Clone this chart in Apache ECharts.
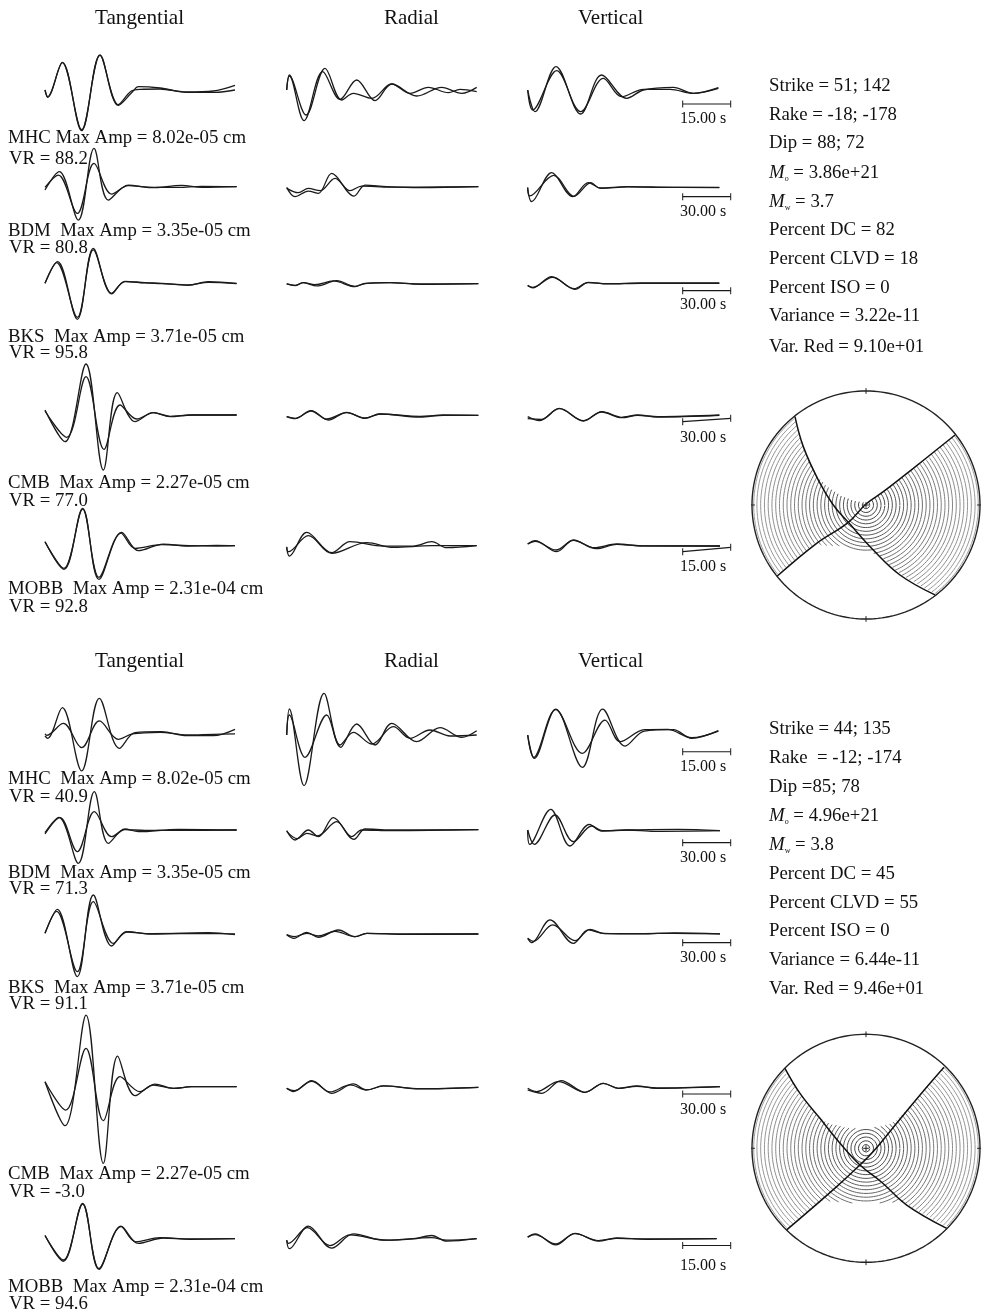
<!DOCTYPE html>
<html><head><meta charset="utf-8">
<style>html,body{margin:0;padding:0;background:#fff}#c{width:986px;height:1314px;filter:blur(0.45px)}</style>
<script src="https://cdn.jsdelivr.net/npm/echarts@6/dist/echarts.min.js"></script>
</head><body><div id="c"></div>
<script>
// ---------- text ----------
const headers = ['Tangential','Radial','Vertical'];
const stationTop = ['MHC Max Amp = 8.02e-05 cm','BDM  Max Amp = 3.35e-05 cm','BKS  Max Amp = 3.71e-05 cm','CMB  Max Amp = 2.27e-05 cm','MOBB  Max Amp = 2.31e-04 cm'];
const stationBot = ['MHC  Max Amp = 8.02e-05 cm','BDM  Max Amp = 3.35e-05 cm','BKS  Max Amp = 3.71e-05 cm','CMB  Max Amp = 2.27e-05 cm','MOBB  Max Amp = 2.31e-04 cm'];
const vrTop = ['VR = 88.2','VR = 80.8','VR = 95.8','VR = 77.0','VR = 92.8'];
const vrBot = ['VR = 40.9','VR = 71.3','VR = 91.1','VR = -3.0','VR = 94.6'];
const scaleText = ['15.00 s','30.00 s','30.00 s','30.00 s','15.00 s'];
const statsTop = ['Strike = 51; 142','Rake = -18; -178','Dip = 88; 72','{i|M}{s|o} = 3.86e+21','{i|M}{s|w} = 3.7','Percent DC = 82','Percent CLVD = 18','Percent ISO = 0','Variance = 3.22e-11','Var. Red = 9.10e+01'];
const statsBot = ['Strike = 44; 135','Rake  = -12; -174','Dip =85; 78','{i|M}{s|o} = 4.96e+21','{i|M}{s|w} = 3.8','Percent DC = 45','Percent CLVD = 55','Percent ISO = 0','Variance = 6.44e-11','Var. Red = 9.46e+01'];

// ---------- waveforms: [time, amplitude] in trace units; a = first trace, b = second trace ----------
const top_mhc_t_a=[[0,0],[8,-22],[52,83],[110,-122],[165,105],[220,-46],[262,-6],[280,10],[345,6],[425,-6],[505,-3],[570,14]];
const top_mhc_t_b=[[0,0],[8,-20],[52,82],[110,-119],[165,104],[220,-44],[258,-4],[285,2],[345,3],[425,-7],[510,-7],[570,0]];
const top_mhc_r_a=[[0,0],[8,45],[52,-92],[108,55],[160,-28],[210,30],[265,-32],[315,18],[390,-18],[465,8],[525,-10],[570,8]];
const top_mhc_r_b=[[0,0],[8,42],[58,-75],[115,65],[165,-30],[200,-10],[255,-25],[315,18],[370,-10],[425,8],[485,-8],[520,2],[570,-5]];
const top_mhc_v_a=[[0,0],[22,-65],[85,70],[159,-72],[222,45],[297,-25],[347,0],[437,8],[497,-10],[572,7]];
const top_mhc_v_b=[[0,0],[15,-60],[87,58],[159,-65],[227,35],[282,-20],[347,2],[427,2],[497,-10],[572,5]];

const top_bdm_t_a=[[0,-10],[43,45],[100,-100],[147,115],[190,-40],[250,5],[320,-3],[410,4],[470,-2],[575,0]];
const top_bdm_t_b=[[0,-2],[40,35],[97,-80],[147,70],[200,-22],[250,3],[310,-1],[400,-2],[470,1],[575,0]];
const top_bdm_r_a=[[0,-2],[25,-30],[65,-13],[95,-20],[135,40],[202,-28],[235,5],[300,0],[400,-3],[575,0]];
const top_bdm_r_b=[[0,-5],[35,-18],[65,-5],[100,-12],[145,25],[190,-12],[225,2],[310,-1],[390,-1],[575,0]];
const top_bdm_v_a=[[0,-3],[12,-43],[72,44],[135,-28],[182,14],[220,-3],[300,1],[380,0],[575,-1]];
const top_bdm_v_b=[[0,0],[6,-26],[78,36],[139,-27],[190,14],[215,-2],[300,2],[440,0],[575,0]];

const top_bks_t_a=[[0,0],[38,65],[97,-108],[145,105],[200,-32],[240,6],[300,2],[350,0],[430,-6],[490,5],[575,0]];
const top_bks_t_b=[[0,0],[35,62],[97,-102],[145,100],[200,-30],[240,5],[300,1],[350,-1],[430,-5],[490,3],[575,-1]];
const top_bks_r_a=[[0,-2],[25,-7],[50,2],[85,-4],[140,7],[205,-10],[235,0],[310,2],[400,-3],[575,-1]];
const top_bks_r_b=[[0,-2],[25,-6],[50,2],[90,-8],[150,8],[205,-9],[235,-1],[310,2],[400,-2],[575,-1]];
const top_bks_v_a=[[0,-6],[15,-14],[72,20],[142,-18],[182,3],[240,-2],[340,0],[575,0]];
const top_bks_v_b=[[0,-8],[15,-12],[74,18],[140,-16],[180,2],[240,-1],[340,1],[575,1]];

const top_cmb_t_a=[[0,15],[60,-80],[123,153],[175,-165],[217,67],[270,-20],[325,7],[375,-5],[440,0],[575,0]];
const top_cmb_t_b=[[0,12],[65,-67],[123,115],[177,-103],[225,30],[275,-12],[325,7],[375,-4],[440,0],[575,0]];
const top_cmb_r_a=[[0,-5],[25,-10],[73,13],[125,-15],[180,8],[235,-10],[280,3],[400,-6],[470,0],[575,-1]];
const top_cmb_r_b=[[0,-5],[25,-11],[73,12],[120,-12],[180,7],[235,-9],[280,3],[400,-4],[470,-1],[575,-1]];
const top_cmb_v_a=[[0,-2],[35,-14],[95,23],[167,-14],[222,13],[282,-4],[330,3],[390,-2],[575,3]];
const top_cmb_v_b=[[0,-8],[40,-10],[95,22],[167,-15],[222,12],[282,-5],[330,2],[390,-3],[575,2]];

const top_mob_t_a=[[0,12],[57,-71],[113,112],[162,-101],[230,40],[280,-15],[355,5],[430,-1],[515,1],[570,0]];
const top_mob_t_b=[[0,12],[57,-68],[113,110],[162,-95],[228,38],[270,-8],[350,3],[440,0],[515,-1],[570,0]];
const top_mob_r_a=[[0,-5],[8,-31],[60,40],[135,-21],[190,12],[290,-1],[380,-1],[435,12],[480,-6],[570,0]];
const top_mob_r_b=[[0,-3],[5,-18],[65,30],[135,-23],[240,9],[320,-5],[435,0],[570,0]];
const top_mob_v_a=[[0,3],[22,13],[87,-20],[137,15],[200,-8],[267,3],[340,-2],[577,-3]];
const top_mob_v_b=[[0,3],[22,11],[85,-15],[137,14],[205,-11],[267,2],[340,-3],[577,-3]];

const bot_mhc_t_a=[[0,-8],[8,-15],[52,77],[110,-113],[163,105],[223,-45],[270,2],[350,5],[425,-7],[505,-7],[570,12]];
const bot_mhc_t_b=[[0,-2],[5,-6],[55,30],[110,-43],[163,37],[220,-18],[262,-2],[345,3],[425,-5],[505,-3],[570,-2]];
const bot_mhc_r_a=[[0,0],[8,78],[52,-152],[112,125],[162,-37],[210,33],[265,-30],[315,35],[390,-20],[460,22],[525,-7],[570,13]];
const bot_mhc_r_b=[[0,0],[8,60],[55,-67],[120,60],[160,-30],[200,8],[255,-27],[320,25],[370,-10],[430,15],[490,-3],[570,0]];
const bot_mhc_v_a=[[0,-10],[20,-80],[84,68],[164,-107],[225,68],[292,-43],[350,2],[437,6],[492,-20],[572,3]];
const bot_mhc_v_b=[[0,-10],[18,-77],[84,66],[164,-65],[232,35],[277,-30],[350,6],[420,7],[492,-18],[572,2]];

const bot_bdm_t_a=[[0,-8],[42,38],[100,-100],[148,115],[190,-40],[240,3],[280,-5],[400,2],[575,0]];
const bot_bdm_t_b=[[0,-12],[45,37],[97,-65],[148,55],[200,-20],[240,1],[300,-1],[410,-1],[575,0]];
const bot_bdm_r_a=[[0,-2],[25,-30],[65,0],[95,-20],[140,37],[202,-28],[235,3],[310,0],[575,1]];
const bot_bdm_r_b=[[0,-4],[32,-26],[60,-10],[92,-18],[150,25],[195,-20],[225,0],[320,-2],[575,1]];
const bot_bdm_v_a=[[0,0],[6,-43],[69,62],[127,-48],[185,17],[220,-3],[300,0],[380,-4],[577,-2]];
const bot_bdm_v_b=[[0,0],[20,-43],[82,45],[137,-35],[192,12],[225,-2],[300,0],[450,2],[577,-2]];

const bot_bks_t_a=[[0,2],[37,74],[97,-128],[145,117],[200,-36],[245,7],[320,0],[490,4],[570,-2]];
const bot_bks_t_b=[[0,2],[35,68],[97,-113],[145,97],[205,-28],[245,6],[320,1],[490,2],[570,0]];
const bot_bks_r_a=[[0,-2],[22,-13],[60,5],[95,-10],[155,12],[205,-8],[240,2],[360,-1],[575,0]];
const bot_bks_r_b=[[0,-2],[22,-8],[60,2],[95,-6],[145,8],[205,-8],[240,2],[360,0],[575,0]];
const bot_bks_v_a=[[0,-15],[12,-28],[67,40],[137,-30],[182,10],[227,0],[340,-2],[440,1],[577,-2]];
const bot_bks_v_b=[[0,-15],[17,-24],[75,25],[142,-22],[187,12],[230,-1],[340,-1],[440,0],[577,-2]];

const bot_cmb_t_a=[[0,15],[60,-117],[123,215],[175,-230],[218,92],[270,-27],[330,8],[385,-5],[440,0],[575,0]];
const bot_cmb_t_b=[[0,15],[62,-70],[123,115],[175,-102],[225,30],[285,-15],[325,5],[385,-5],[440,0],[575,0]];
const bot_cmb_r_a=[[0,-3],[20,-13],[75,20],[135,-18],[200,10],[240,-8],[290,4],[400,-5],[575,0]];
const bot_cmb_r_b=[[0,-3],[22,-10],[75,18],[130,-14],[190,7],[240,-8],[290,4],[400,-4],[575,0]];
const bot_cmb_v_a=[[0,-3],[27,-13],[92,17],[172,-15],[227,12],[272,-3],[327,4],[387,-3],[577,2]];
const bot_cmb_v_b=[[0,-8],[42,-18],[100,20],[172,-15],[227,12],[272,-3],[327,3],[387,-2],[577,2]];

const bot_mob_t_a=[[0,10],[55,-72],[113,112],[162,-98],[228,40],[280,-15],[355,2],[435,-2],[570,0]];
const bot_mob_t_b=[[0,10],[55,-68],[113,110],[162,-95],[228,38],[272,-10],[345,3],[435,-1],[570,0]];
const bot_mob_r_a=[[0,-5],[8,-32],[65,40],[135,-30],[200,15],[290,-5],[380,-1],[435,10],[480,-8],[570,0]];
const bot_mob_r_b=[[0,-5],[5,-15],[62,35],[130,-22],[190,12],[300,-5],[435,3],[480,-5],[570,0]];
const bot_mob_v_a=[[0,5],[22,15],[84,-20],[142,17],[212,-8],[267,2],[357,-2],[567,0]];
const bot_mob_v_b=[[0,5],[22,13],[84,-17],[142,16],[212,-6],[267,1],[357,-1],[567,0]];

// scale bars in trace units of the Vertical panels: [left amplitude, right amplitude]
const scaleBarTop=[[-42,-42],[-28,-28],[-22,-22],[-17,-7],[-20,-7]];
const scaleBarBot=[[-60,-60],[-38,-38],[-28,-28],[-20,-20],[-22,-22]];
const scaleBarSpan=[465,609];

// ---------- focal mechanisms, unit-circle coordinates ----------
const ringRadii=[.033,.066,.099,.132,.165,.198,.231,.264,.297,.33,.363,.396,.429,.462,.495,.528,.561,.594,.627,.66,.693,.726,.759,.792,.825,.858,.891,.924,.957,.985];
const ball1_planeA=[[-.623,.775],[-.55,.512],[-.418,.219],[-.287,0],[-.155,-.152],[.064,-.395],[.298,-.614],[.605,-.789]];
const ball1_planeB=[[.781,.614],[.415,.322],[.152,.117],[0,.009],[-.155,-.152],[-.433,-.336],[-.778,-.623]];
const ball1_clearTop=[[-.623,.775],[-.55,.512],[-.43,.25],[-.316,.146],[-.228,.088],[-.111,.038],[0,.02],[.152,.117],[.415,.322],[.781,.614],[1.3,1.3],[-.8,1.3]];
const ball1_clearBot=[[-.778,-.623],[-.433,-.336],[-.40,-.36],[-.228,-.36],[-.02,-.41],[.1,-.43],[.298,-.614],[.605,-.789],[.9,-1.3],[-1,-1.3]];
const ball2_planeA=[[-.711,.702],[-.579,.482],[-.404,.263],[-.228,.044],[-.053,-.146],[.14,-.30],[.36,-.50],[.708,-.702]];
const ball2_planeB=[[.684,.711],[.474,.468],[.269,.219],[.064,-.029],[-.053,-.146],[-.257,-.336],[-.696,-.716]];
const ball2_clearTop=[[-.711,.702],[-.579,.482],[-.404,.263],[-.316,.219],[-.17,.181],[0,.17],[.152,.2],[.269,.249],[.474,.468],[.684,.711],[1.3,1.3],[-1,1.3]];
const ball2_clearBot=[[-.696,-.716],[-.374,-.46],[-.17,-.48],[0,-.485],[.17,-.48],[.30,-.47],[.36,-.50],[.708,-.702],[1,-1.3],[-1,-1.3]];

// ---------- layout ----------
const FONT='"Liberation Serif","Times New Roman",serif', INK='#1a1a1a';
const colLeft=[45,286.7,527.7];
const rowBaseTop=[[90,90,90],[186.7,186.7,187.3],[283.3,283.3,283.3],[415,415,416],[545.7,545.7,545]];
const rowBaseBot=[[733.3,735,731.7],[830,830,830],[934,934,933.3],[1086.7,1087.3,1087.3],[1243.3,1243.3,1243.3]];
const TRACE=[
 [[top_mhc_t_a,top_mhc_t_b],[top_mhc_r_a,top_mhc_r_b],[top_mhc_v_a,top_mhc_v_b]],
 [[top_bdm_t_a,top_bdm_t_b],[top_bdm_r_a,top_bdm_r_b],[top_bdm_v_a,top_bdm_v_b]],
 [[top_bks_t_a,top_bks_t_b],[top_bks_r_a,top_bks_r_b],[top_bks_v_a,top_bks_v_b]],
 [[top_cmb_t_a,top_cmb_t_b],[top_cmb_r_a,top_cmb_r_b],[top_cmb_v_a,top_cmb_v_b]],
 [[top_mob_t_a,top_mob_t_b],[top_mob_r_a,top_mob_r_b],[top_mob_v_a,top_mob_v_b]]];
const TRACE2=[
 [[bot_mhc_t_a,bot_mhc_t_b],[bot_mhc_r_a,bot_mhc_r_b],[bot_mhc_v_a,bot_mhc_v_b]],
 [[bot_bdm_t_a,bot_bdm_t_b],[bot_bdm_r_a,bot_bdm_r_b],[bot_bdm_v_a,bot_bdm_v_b]],
 [[bot_bks_t_a,bot_bks_t_b],[bot_bks_r_a,bot_bks_r_b],[bot_bks_v_a,bot_bks_v_b]],
 [[bot_cmb_t_a,bot_cmb_t_b],[bot_cmb_r_a,bot_cmb_r_b],[bot_cmb_v_a,bot_cmb_v_b]],
 [[bot_mob_t_a,bot_mob_t_b],[bot_mob_r_a,bot_mob_r_b],[bot_mob_v_a,bot_mob_v_b]]];

const grids=[],xAxes=[],yAxes=[],series=[],texts=[];
function addGrid(left,top,w,h,xr,yr){
  const i=grids.length;
  grids.push({left,top,width:w,height:h,containLabel:false});
  xAxes.push({type:'value',gridIndex:i,min:xr[0],max:xr[1],show:false});
  yAxes.push({type:'value',gridIndex:i,min:yr[0],max:yr[1],show:false});
  return i;
}
function addPanelSet(traces,bases,bars){
  traces.forEach((row,r)=>row.forEach((pair,c)=>{
    const g=addGrid(colLeft[c],bases[r][c]-80,640/3,160,[0,640],[-240,240]);
    pair.forEach(d=>series.push({type:'line',xAxisIndex:g,yAxisIndex:g,data:d,smooth:0.35,showSymbol:false,symbol:'none',silent:true,clip:false,lineStyle:{color:INK,width:1.3}}));
    if(c===2){
      series.push({type:'line',xAxisIndex:g,yAxisIndex:g,silent:true,clip:false,showSymbol:true,showAllSymbol:true,symbol:'rect',symbolSize:[1,7],
        itemStyle:{color:INK},lineStyle:{color:INK,width:1.1},
        data:[[scaleBarSpan[0],bars[r][0]],[scaleBarSpan[1],bars[r][1]]]});
    }
  }));
}
addPanelSet(TRACE,rowBaseTop,scaleBarTop);
addPanelSet(TRACE2,rowBaseBot,scaleBarBot);

function inPoly(x,y,p){let c=false;for(let i=0,j=p.length-1;i<p.length;j=i++){
  if((p[i][1]>y)!==(p[j][1]>y)&&x<(p[j][0]-p[i][0])*(y-p[i][1])/(p[j][1]-p[i][1])+p[i][0])c=!c;}return c;}
function addBall(cx,cy,R,planeA,planeB,clearA,clearB){
  const g=addGrid(cx-R,cy-R,2*R,2*R,[-1,1],[-1,1]);
  const base={type:'line',xAxisIndex:g,yAxisIndex:g,showSymbol:false,symbol:'none',silent:true,clip:false};
  ringRadii.forEach(r=>{
    const d=[];
    for(let a=0;a<=360;a+=1){
      const x=r*Math.cos(a*Math.PI/180),y=r*Math.sin(a*Math.PI/180);
      d.push(inPoly(x,y,clearA)||inPoly(x,y,clearB)?[NaN,NaN]:[x,y]);
    }
    const g1=Math.round(60+100*r);
    series.push({...base,data:d,connectNulls:false,lineStyle:{color:'rgb('+g1+','+g1+','+g1+')',width:1.0}});
  });
  const edge=[];for(let a=0;a<=360;a+=1)edge.push([Math.cos(a*Math.PI/180),Math.sin(a*Math.PI/180)]);
  series.push({...base,data:edge,lineStyle:{color:'#222',width:1.4}});
  [planeA,planeB].forEach(p=>series.push({...base,data:p,smooth:0.4,lineStyle:{color:'#111',width:1.5}}));
  [[[0,.975],[0,1.025]],[[0,-.975],[0,-1.025]],[[.975,0],[1.025,0]],[[-.975,0],[-1.025,0]],[[-.025,0],[.025,0]],[[0,-.025],[0,.025]]]
    .forEach(t=>series.push({...base,data:t,lineStyle:{color:'#222',width:1}}));
}
addBall(866,505,114,ball1_planeA,ball1_planeB,ball1_clearTop,ball1_clearBot);
addBall(866,1148.3,114,ball2_planeA,ball2_planeB,ball2_clearTop,ball2_clearBot);

// ---------- text ----------
function T(text,x,y,size,extra){
  texts.push({type:'text',x,y,silent:true,z:50,style:Object.assign({text,fill:'#111',font:size+'px '+FONT,fontFamily:FONT,fontSize:size,align:'left',verticalAlign:'middle'},extra||{})});
}
const RICH={rich:{i:{fontFamily:FONT,fontSize:18.8,fontStyle:'italic',fill:'#111'},s:{fontFamily:FONT,fontSize:8,fill:'#111',verticalAlign:'bottom'}}};
[[18.5],[661.5]].forEach(([y])=>{T(headers[0],95,y,21.2);T(headers[1],384,y,21);T(headers[2],578,y,21);});
const stTopY=[138,231,337,483,589], vrTopY=[159,248,353,501,607];
const stBotY=[779,873,988,1174,1287], vrBotY=[797,889,1004,1192,1304];
stationTop.forEach((s,i)=>{T(s,8,stTopY[i],18.8);T(vrTop[i],9,vrTopY[i],18.8);});
stationBot.forEach((s,i)=>{T(s,8,stBotY[i],18.8);T(vrBot[i],9,vrBotY[i],18.8);});
const sclTopY=[119,212,305,438,567], sclBotY=[767,858,958,1110,1266];
scaleText.forEach((s,i)=>{T(s,680,sclTopY[i],16);T(s,680,sclBotY[i],16);});
const statTopY=[86,115,143,173,202,230,259,288,316,347], statBotY=[729,758,787,816,845,874,903,931,960,989];
statsTop.forEach((s,i)=>T(s,769,statTopY[i],18.8,RICH));
statsBot.forEach((s,i)=>T(s,769,statBotY[i],18.8,RICH));

const chart=echarts.init(document.getElementById('c'),null,{renderer:'canvas',width:986,height:1314});
chart.setOption({animation:false,backgroundColor:'#fff',grid:grids,xAxis:xAxes,yAxis:yAxes,series,graphic:{elements:texts},tooltip:{show:false},legend:{show:false}});
</script></body></html>
